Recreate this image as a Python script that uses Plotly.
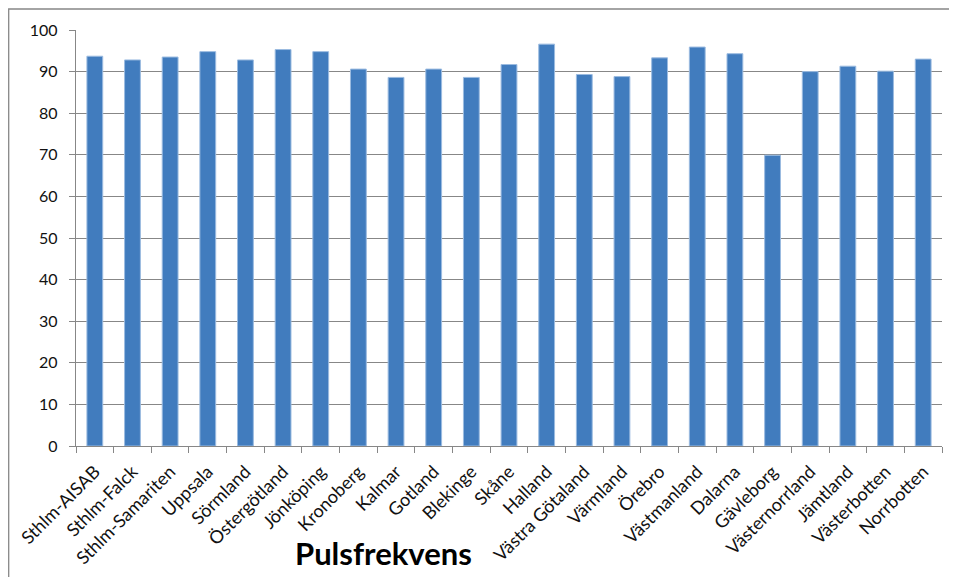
import plotly.graph_objects as go

categories = ["Sthlm-AISAB", "Sthlm-Falck", "Sthlm-Samariten", "Uppsala", "Sörmland",
              "Östergötland", "Jönköping", "Kronoberg", "Kalmar", "Gotland", "Blekinge",
              "Skåne", "Halland", "Västra Götaland", "Värmland", "Örebro", "Västmanland",
              "Dalarna", "Gävleborg", "Västernorrland", "Jämtland", "Västerbotten", "Norrbotten"]
values = [93.7, 92.8, 93.5, 94.8, 92.8, 95.3, 94.8, 90.6, 88.6, 90.6, 88.6,
          91.7, 96.6, 89.3, 88.8, 93.3, 95.9, 94.3, 69.9, 90.0, 91.3, 90.1, 93.0]
y_ticks = [0, 10, 20, 30, 40, 50, 60, 70, 80, 90, 100]
title_text = "Pulsfrekvens"

# page body has an 8px default margin
OFF = 8
W, H = 957 - OFF, 577 - OFF
L, R, T, B = 76 - OFF, 15, 30 - OFF, 131
pw, ph = W - L - R, H - T - B

def px_x(p):  # screen px -> paper
    return (p - OFF - L) / pw

def px_y(p):
    return (H - B - (p - OFF)) / ph

font = "Lato, 'Open Sans', sans-serif"
grid = "#878787"

fig = go.Figure(go.Bar(
    x=categories, y=values,
    marker=dict(color="#417CBE", line=dict(color="#9BBBE0", width=1)),
))

fig.update_layout(
    width=W, height=H,
    margin=dict(l=L, r=R, t=T, b=B, autoexpand=False),
    paper_bgcolor="white", plot_bgcolor="white",
    bargap=0.58,
    showlegend=False,
    font=dict(family=font, size=15, color="#111111"),
    xaxis=dict(
        type="category", tickangle=-45, tickson="boundaries", automargin=False,
        ticks="outside", ticklen=6, tickcolor=grid, tickwidth=1.3,
        ticklabelstandoff=7,
        showline=True, linecolor=grid, linewidth=1.3,
        showgrid=False, tickfont=dict(size=18, family=font),
    ),
    yaxis=dict(
        range=[0, 100], tickvals=y_ticks, ticktext=[str(v) for v in y_ticks],
        automargin=False,
        ticks="outside", ticklen=6, tickcolor=grid, tickwidth=1.3,
        ticklabelstandoff=8,
        showline=True, linecolor=grid, linewidth=1.3,
        showgrid=True, gridcolor=grid, gridwidth=1.3, zeroline=False,
        tickfont=dict(size=16, family=font),
    ),
    shapes=[dict(type="rect", xref="paper", yref="paper",
                 x0=px_x(OFF + 0.7), x1=px_x(970), y0=px_y(590), y1=px_y(9),
                 line=dict(color=grid, width=1.3), fillcolor="rgba(0,0,0,0)", layer="below")],
    annotations=[dict(text="<b>" + title_text + "</b>", xref="paper", yref="paper",
                      x=px_x(383), y=px_y(553), xanchor="center", yanchor="middle",
                      showarrow=False, font=dict(size=31, family=font, color="#000000"))],
)

fig.write_html("out.html")
